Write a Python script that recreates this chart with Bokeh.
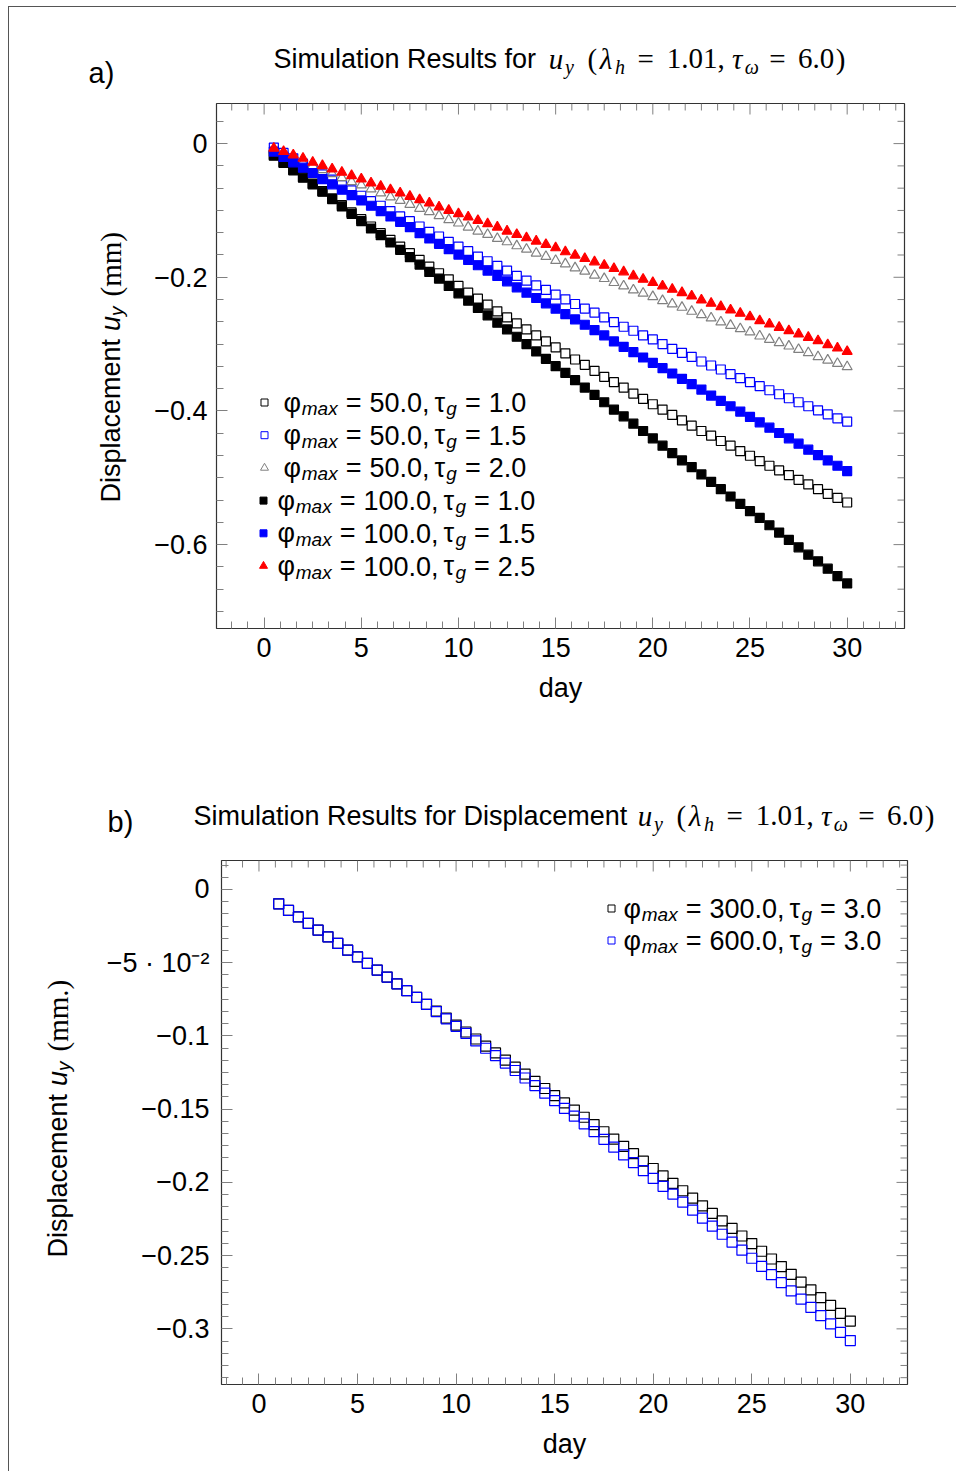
import math
from bokeh.plotting import figure
from bokeh.models import Range1d, FixedTicker, Label, CustomJSTickFormatter, ColumnDataSource
from bokeh.layouts import column, row
from bokeh.embed import file_html
from bokeh.resources import INLINE

# ---------------- data ----------------
days_a = [0.5, 1.0, 1.5, 2.0, 2.5, 3.0, 3.5, 4.0, 4.5, 5.0,
          5.5, 6.0, 6.5, 7.0, 7.5, 8.0, 8.5, 9.0, 9.5, 10.0,
          10.5, 11.0, 11.5, 12.0, 12.5, 13.0, 13.5, 14.0, 14.5, 15.0,
          15.5, 16.0, 16.5, 17.0, 17.5, 18.0, 18.5, 19.0, 19.5, 20.0,
          20.5, 21.0, 21.5, 22.0, 22.5, 23.0, 23.5, 24.0, 24.5, 25.0,
          25.5, 26.0, 26.5, 27.0, 27.5, 28.0, 28.5, 29.0, 29.5, 30.0]

phi50_tau10 = [-0.017, -0.028, -0.039, -0.050, -0.060, -0.071, -0.082, -0.092, -0.103, -0.113,
               -0.124, -0.134, -0.144, -0.154, -0.164, -0.174, -0.184, -0.194, -0.203, -0.213,
               -0.223, -0.232, -0.241, -0.251, -0.260, -0.269, -0.278, -0.287, -0.296, -0.305,
               -0.314, -0.323, -0.331, -0.340, -0.349, -0.357, -0.365, -0.374, -0.382, -0.390,
               -0.398, -0.406, -0.414, -0.422, -0.430, -0.437, -0.445, -0.452, -0.460, -0.467,
               -0.475, -0.482, -0.489, -0.496, -0.503, -0.510, -0.517, -0.524, -0.530, -0.537]
phi50_tau15 = [-0.006, -0.014, -0.022, -0.030, -0.038, -0.046, -0.054, -0.062, -0.070, -0.078,
               -0.086, -0.093, -0.101, -0.109, -0.116, -0.124, -0.132, -0.139, -0.147, -0.154,
               -0.161, -0.169, -0.176, -0.183, -0.190, -0.198, -0.205, -0.212, -0.219, -0.226,
               -0.233, -0.240, -0.247, -0.253, -0.260, -0.267, -0.274, -0.280, -0.287, -0.293,
               -0.300, -0.307, -0.313, -0.319, -0.326, -0.332, -0.338, -0.345, -0.351, -0.357,
               -0.363, -0.369, -0.375, -0.381, -0.387, -0.393, -0.399, -0.405, -0.411, -0.416]
phi50_tau20 = [-0.010, -0.016, -0.022, -0.028, -0.033, -0.039, -0.045, -0.051, -0.057, -0.062,
               -0.068, -0.074, -0.080, -0.085, -0.091, -0.097, -0.102, -0.108, -0.114, -0.119,
               -0.125, -0.131, -0.136, -0.142, -0.147, -0.153, -0.158, -0.164, -0.169, -0.175,
               -0.180, -0.186, -0.191, -0.197, -0.202, -0.208, -0.213, -0.219, -0.224, -0.229,
               -0.235, -0.240, -0.245, -0.251, -0.256, -0.261, -0.267, -0.272, -0.277, -0.282,
               -0.288, -0.293, -0.298, -0.303, -0.308, -0.313, -0.319, -0.324, -0.329, -0.334]
phi100_tau10 = [-0.018, -0.029, -0.040, -0.051, -0.061, -0.072, -0.083, -0.094, -0.105, -0.116,
                -0.127, -0.137, -0.148, -0.159, -0.170, -0.181, -0.192, -0.202, -0.213, -0.224,
                -0.235, -0.246, -0.257, -0.268, -0.278, -0.289, -0.300, -0.311, -0.322, -0.333,
                -0.343, -0.354, -0.365, -0.376, -0.387, -0.398, -0.408, -0.419, -0.430, -0.441,
                -0.452, -0.463, -0.474, -0.484, -0.495, -0.506, -0.517, -0.528, -0.539, -0.550,
                -0.560, -0.571, -0.582, -0.593, -0.604, -0.615, -0.625, -0.636, -0.647, -0.658]
phi100_tau15 = [-0.012, -0.020, -0.028, -0.036, -0.044, -0.053, -0.061, -0.069, -0.077, -0.085,
                -0.093, -0.101, -0.109, -0.117, -0.125, -0.134, -0.142, -0.150, -0.158, -0.166,
                -0.174, -0.182, -0.190, -0.198, -0.206, -0.215, -0.223, -0.231, -0.239, -0.247,
                -0.255, -0.263, -0.271, -0.279, -0.287, -0.296, -0.304, -0.312, -0.320, -0.328,
                -0.336, -0.344, -0.352, -0.360, -0.368, -0.377, -0.385, -0.393, -0.401, -0.409,
                -0.417, -0.425, -0.433, -0.441, -0.449, -0.458, -0.466, -0.474, -0.482, -0.490]
phi100_tau25 = [-0.007, -0.012, -0.017, -0.022, -0.028, -0.033, -0.038, -0.043, -0.048, -0.053,
                -0.059, -0.064, -0.069, -0.074, -0.079, -0.084, -0.089, -0.095, -0.100, -0.105,
                -0.110, -0.115, -0.120, -0.125, -0.131, -0.136, -0.141, -0.146, -0.151, -0.156,
                -0.162, -0.167, -0.172, -0.177, -0.182, -0.187, -0.192, -0.198, -0.203, -0.208,
                -0.213, -0.218, -0.223, -0.228, -0.234, -0.239, -0.244, -0.249, -0.254, -0.259,
                -0.265, -0.270, -0.275, -0.280, -0.285, -0.290, -0.295, -0.301, -0.306, -0.311]

days_b = [1.0, 1.5, 2.0, 2.5, 3.0, 3.5, 4.0, 4.5, 5.0, 5.5,
          6.0, 6.5, 7.0, 7.5, 8.0, 8.5, 9.0, 9.5, 10.0, 10.5,
          11.0, 11.5, 12.0, 12.5, 13.0, 13.5, 14.0, 14.5, 15.0, 15.5,
          16.0, 16.5, 17.0, 17.5, 18.0, 18.5, 19.0, 19.5, 20.0, 20.5,
          21.0, 21.5, 22.0, 22.5, 23.0, 23.5, 24.0, 24.5, 25.0, 25.5,
          26.0, 26.5, 27.0, 27.5, 28.0, 28.5, 29.0, 29.5, 30.0]
phi300_tau30 = [-0.0098, -0.0143, -0.0187, -0.0232, -0.0278, -0.0323, -0.0368, -0.0414, -0.0460, -0.0505,
                -0.0551, -0.0598, -0.0644, -0.0691, -0.0737, -0.0784, -0.0831, -0.0878, -0.0926, -0.0973,
                -0.1021, -0.1069, -0.1116, -0.1165, -0.1213, -0.1261, -0.1310, -0.1359, -0.1407, -0.1457,
                -0.1506, -0.1555, -0.1605, -0.1654, -0.1704, -0.1754, -0.1804, -0.1855, -0.1905, -0.1956,
                -0.2006, -0.2057, -0.2108, -0.2160, -0.2211, -0.2263, -0.2314, -0.2366, -0.2418, -0.2470,
                -0.2523, -0.2575, -0.2628, -0.2681, -0.2734, -0.2787, -0.2840, -0.2894, -0.2947]
phi600_tau30 = [-0.0098, -0.0143, -0.0187, -0.0232, -0.0278, -0.0323, -0.0368, -0.0414, -0.0460, -0.0505,
                -0.0551, -0.0598, -0.0644, -0.0691, -0.0737, -0.0785, -0.0834, -0.0883, -0.0934, -0.0983,
                -0.1034, -0.1084, -0.1134, -0.1185, -0.1236, -0.1287, -0.1339, -0.1391, -0.1442, -0.1495,
                -0.1548, -0.1600, -0.1653, -0.1706, -0.1759, -0.1812, -0.1865, -0.1920, -0.1973, -0.2027,
                -0.2080, -0.2135, -0.2189, -0.2244, -0.2298, -0.2354, -0.2408, -0.2463, -0.2518, -0.2573,
                -0.2630, -0.2685, -0.2741, -0.2797, -0.2854, -0.2910, -0.2966, -0.3024, -0.3080]

x_ticks = [0, 5, 10, 15, 20, 25, 30]
ya_ticks = [0.0, -0.2, -0.4, -0.6]
ya_labels = ["0", "\u22120.2", "\u22120.4", "\u22120.6"]
yb_ticks = [0.0, -0.05, -0.1, -0.15, -0.2, -0.25, -0.3]
yb_labels = ["0", "\u22125 \u00b7 10\u207b\u00b2", "\u22120.1", "\u22120.15", "\u22120.2", "\u22120.25", "\u22120.3"]

legend_a = [("50.0", "1.0"), ("50.0", "1.5"), ("50.0", "2.0"),
            ("100.0", "1.0"), ("100.0", "1.5"), ("100.0", "2.5")]
legend_b = [("300.0", "3.0"), ("600.0", "3.0")]

# ---------------- styling helpers ----------------
SANS = "Liberation Sans"
SERIF = "Liberation Serif"
TICK = "#808080"

W_SANS = {' ': 278, '.': 278, ',': 278, '=': 584, '(': 333, ')': 333, 'm': 833, 'a': 556,
          'x': 500, 'g': 556, 'u': 556, 'y': 500, 'D': 722, 'i': 222, 's': 500, 'p': 556,
          'l': 222, 'c': 500, 'e': 556, 'n': 556, 't': 278, '\u03c6': 640, '\u03c4': 440}
W_SERIF = {' ': 250, '.': 250, ',': 250, '=': 564, '(': 333, ')': 333, 'm': 778}
for _d in "0123456789":
    W_SANS[_d] = 556
    W_SERIF[_d] = 500


def text_width(text, font, size):
    tbl = W_SANS if font == SANS else W_SERIF
    return sum(tbl.get(c, 550) for c in text) * size / 1000.0


class Frame:
    """Maps page pixel positions to data coordinates of one figure's frame."""
    def __init__(self, L, R, T, B, x0, x1, y0, y1):
        self.L, self.R, self.T, self.B = L, R, T, B
        self.x0, self.x1, self.y0, self.y1 = x0, x1, y0, y1

    def x(self, px):
        return self.x0 + (px - self.L) * (self.x1 - self.x0) / (self.R - self.L)

    def y(self, py):
        return self.y1 - (py - self.T) * (self.y1 - self.y0) / (self.B - self.T)

    def dx(self, n):
        return n * (self.x1 - self.x0) / (self.R - self.L)

    def dy(self, n):
        return n * (self.y1 - self.y0) / (self.B - self.T)


def label(p, fr, px, py, text, font=SANS, size=27, style="normal", angle=0.0, color="black",
          align="left", baseline="middle"):
    p.add_layout(Label(x=fr.x(px), y=fr.y(py), text=text, text_font=font,
                       text_font_size=f"{size}px", text_font_style=style, text_color=color,
                       text_align=align, text_baseline=baseline, angle=angle))


def run_h(p, fr, px, py, items):
    x = px
    for it in items:
        if isinstance(it, (int, float)):
            x += it
            continue
        text, font, size, style, dy = it
        label(p, fr, x, py + dy, text, font, size, style)
        x += text_width(text, font, size)


def run_v(p, fr, px, py, items):
    # rotated text reading upwards; every piece is centred on its own slot
    y = py
    for it in items:
        if isinstance(it, (int, float)):
            y -= it
            continue
        text, font, size, style, dx = it
        w = text_width(text, font, size)
        label(p, fr, px + dx, y - w / 2, text, font, size, style, angle=math.pi / 2,
              align="center", baseline="middle")
        y -= w


def tick_formatter(vals, labs):
    return CustomJSTickFormatter(args=dict(vals=vals, labs=labs), code="""
        for (let i = 0; i < vals.length; i++) {
            if (Math.abs(vals[i] - tick) < 1e-9) { return labs[i]; }
        }
        return '';
    """)


def style_axis(ax, ticks, minor, standoff):
    ax.ticker = FixedTicker(ticks=ticks, minor_ticks=minor)
    ax.major_tick_in = 11
    ax.major_tick_out = 0
    ax.minor_tick_in = 7
    ax.minor_tick_out = 0
    ax.major_tick_line_color = TICK
    ax.minor_tick_line_color = TICK
    ax.axis_line_color = None
    ax.major_label_text_font = SANS
    ax.major_label_text_font_size = "27px"
    ax.major_label_text_color = "black"
    ax.major_label_standoff = standoff


def style_xlabel(ax):
    ax.axis_label = "day"
    ax.axis_label_text_font = SANS
    ax.axis_label_text_font_size = "27px"
    ax.axis_label_text_font_style = "normal"
    ax.axis_label_text_color = "black"
    ax.axis_label_standoff = 13


def mirror_ticks(p, fr, xmaj, xmin, ymaj, ymin):
    x0, y0, x1, y1 = [], [], [], []
    for ts, n in ((xmaj, 11), (xmin, 7)):
        for t in ts:
            x0.append(t); y0.append(fr.y1); x1.append(t); y1.append(fr.y1 - fr.dy(n))
    for ts, n in ((ymaj, 11), (ymin, 7)):
        for t in ts:
            x0.append(fr.x1); y0.append(t); x1.append(fr.x1 - fr.dx(n)); y1.append(t)
    p.segment(x0=x0, y0=y0, x1=x1, y1=y1, line_color=TICK, line_width=1)


def plot_fig(fr, page_left, page_top, w, h):
    bl = fr.L - page_left
    bt = fr.T - page_top
    p = figure(width=w, height=h, x_range=Range1d(fr.x0, fr.x1), y_range=Range1d(fr.y0, fr.y1),
               output_backend="svg", toolbar_location=None,
               min_border_left=bl, min_border_top=bt,
               min_border_right=w - bl - (fr.R - fr.L),
               min_border_bottom=h - bt - (fr.B - fr.T))
    p.xgrid.visible = False
    p.ygrid.visible = False
    p.outline_line_color = "#333333"
    p.outline_line_width = 1.2
    p.background_fill_color = "white"
    p.border_fill_color = "white"
    return p


def text_fig(page_left, page_top, w, h, bt=0, bb=0):
    """A bare canvas for free text; its frame spans page rows page_top+bt .. page_top+h-bb."""
    fh = h - bt - bb
    p = figure(width=w, height=h, x_range=Range1d(0, w), y_range=Range1d(0, fh),
               output_backend="svg", toolbar_location=None,
               min_border_left=0, min_border_right=0, min_border_top=bt, min_border_bottom=bb,
               x_axis_type=None, y_axis_type=None)
    p.outline_line_color = None
    p.background_fill_color = "white"
    p.border_fill_color = "white"
    fr = Frame(page_left, page_left + w, page_top + bt, page_top + h - bb, 0, w, 0, fh)
    return p, fr


def legend_row(p, fr, mx, my, tx, marker, color, fill, num1, num2):
    p.scatter(x=[fr.x(mx)], y=[fr.y(my)], marker=marker, size=7 if marker == "square" else 8,
              line_color=color, fill_color=fill, line_width=1)
    run_h(p, fr, tx, my, [
        ("\u03c6", SANS, 27, "normal", 0), 1,
        ("max", SANS, 19, "italic", 6), 8,
        ("=", SANS, 27, "normal", 0), 8,
        (num1 + ",", SANS, 27, "normal", 0), 5,
        ("\u03c4", SANS, 27, "normal", 0),
        ("g", SANS, 19, "italic", 6), 8,
        ("=", SANS, 27, "normal", 0), 8,
        (num2, SANS, 27, "normal", 0)])


# math part of the titles: (offset from the opening parenthesis, text, size, style, dy)
TITLE_MATH = [(0.9, "(", 29, "normal", 0), (13.2, "\u03bb", 29, "italic", 0),
              (28.6, "h", 20, "italic", 8), (51.1, "=", 29, "normal", 0),
              (80.3, "1.01,", 29, "normal", 0), (145.6, "\u03c4", 29, "italic", 0),
              (158.2, "\u03c9", 20, "italic", 8), (182.8, "=", 29, "normal", 0),
              (211.4, "6.0", 29, "normal", 0), (249.3, ")", 29, "normal", 0)]


def title_runs(p, fr, x_sans, sans_text, x_u, x_paren, cy):
    label(p, fr, x_sans, cy, sans_text, SANS, 27)
    label(p, fr, x_u + 1.2, cy, "u", SERIF, 29, "italic")
    label(p, fr, x_u + 17.5, cy + 8, "y", SERIF, 20, "italic")
    for dx, txt, size, style, dy in TITLE_MATH:
        label(p, fr, x_paren + dx, cy + dy, txt, SERIF, size, style)


Y_LABEL_A = [("Displacement", SANS, 27, "normal", 0), 8,
             ("u", SANS, 27, "italic", 0),
             ("y", SANS, 19, "italic", 6), 10,
             ("(mm)", SERIF, 29, "normal", 0)]
Y_LABEL_B = [("Displacement", SANS, 27, "normal", 0), 8,
             ("u", SANS, 27, "italic", 0),
             ("y", SANS, 19, "italic", 6), 10,
             ("(mm.)", SERIF, 29, "normal", 0)]

X0, Y0 = 9, 7          # page position of the content (after margin + border)
FW = 947

# ---------------- panel a ----------------
ta, tfa = text_fig(X0, Y0, FW, 92)
title_runs(ta, tfa, 273, "Simulation Results for", 547, 586, 58)
label(ta, tfa, 88, 72, "a)", SANS, 29)

fa = Frame(216, 904, 103, 628, -2.45, 32.95, -0.7255, 0.06)
ya_w = 130
pa = plot_fig(fa, X0 + ya_w, 99, FW - ya_w, 662)
# the text canvas shares the plot's frame rows (row layouts align frames)
la, lfa = text_fig(X0, 99, ya_w, 662, bt=fa.T - 99, bb=99 + 662 - fa.B)
run_v(la, lfa, 110, 502, Y_LABEL_A)

series_a = [
    (phi50_tau10, "square", "black", None, 9),
    (phi50_tau15, "square", "#0000ff", None, 9),
    (phi50_tau20, "triangle", "#808080", None, 10),
    (phi100_tau10, "square", "black", "black", 9),
    (phi100_tau15, "square", "#0000ff", "#0000ff", 9),
    (phi100_tau25, "triangle", "#ff0000", "#ff0000", 10),
]
for vals, mk, col, fill, sz in series_a:
    src = ColumnDataSource(dict(day=days_a, v=vals))
    pa.scatter(x="day", y="v", source=src, marker=mk, size=sz, line_color=col,
               fill_color=fill, line_width=1.2)

xa_minor = [k * 5 / 6 for k in range(-2, 40) if k % 6 != 0]
ya_minor = [k * 0.2 / 6 for k in range(-21, 2) if k % 6 != 0]
style_axis(pa.xaxis[0], x_ticks, xa_minor, 9)
style_axis(pa.yaxis[0], ya_ticks, ya_minor, 9)
pa.yaxis[0].formatter = tick_formatter(ya_ticks, ya_labels)
style_xlabel(pa.xaxis[0])
mirror_ticks(pa, fa, x_ticks, xa_minor, ya_ticks, ya_minor)

legend_style_a = [("square", "black", None), ("square", "#0000ff", None), ("triangle", "#808080", None),
                  ("square", "black", "black"), ("square", "#0000ff", "#0000ff"),
                  ("triangle", "#ff0000", "#ff0000")]
for i, ((n1, n2), (mk, col, fill)) in enumerate(zip(legend_a, legend_style_a)):
    cy = 402 + 32.7 * i
    if i < 3:
        legend_row(pa, fa, 264, cy, 283, mk, col, fill, n1, n2)
    else:
        legend_row(pa, fa, 263, cy, 277, mk, col, fill, n1, n2)

# ---------------- panel b ----------------
tb, tfb = text_fig(X0, 761, FW, 95)
title_runs(tb, tfb, 193, "Simulation Results for Displacement", 636, 675, 815)
label(tb, tfb, 107, 821, "b)", SANS, 29)

fb = Frame(221, 907, 860, 1384, -1.9, 32.9, -0.338, 0.0198)
yb_w = 85
pb = plot_fig(fb, X0 + yb_w, 856, FW - yb_w, 615)
lb, lfb = text_fig(X0, 856, yb_w, 615, bt=fb.T - 856, bb=856 + 615 - fb.B)
run_v(lb, lfb, 57, 1257, Y_LABEL_B)

for vals, col in ((phi300_tau30, "black"), (phi600_tau30, "#0000ff")):
    src = ColumnDataSource(dict(day=days_b, v=vals))
    pb.scatter(x="day", y="v", source=src, marker="square", size=10, line_color=col,
               fill_color=None, line_width=1.2)

xb_minor = [k * 5 / 6 for k in range(-2, 40) if k % 6 != 0]
yb_minor = [k * 0.05 / 6 for k in range(-40, 3) if k % 6 != 0]
style_axis(pb.xaxis[0], x_ticks, xb_minor, 9)
style_axis(pb.yaxis[0], yb_ticks, yb_minor, 12)
pb.yaxis[0].formatter = tick_formatter(yb_ticks, yb_labels)
style_xlabel(pb.xaxis[0])
mirror_ticks(pb, fb, x_ticks, xb_minor, yb_ticks, yb_minor)

for i, ((n1, n2), col) in enumerate(zip(legend_b, ["black", "#0000ff"])):
    legend_row(pb, fb, 611, 908 + 32 * i, 623, "square", col, None, n1, n2)

layout = column(ta, row(la, pa), tb, row(lb, pb),
                styles={"margin-left": "8px", "margin-top": "6px",
                        "border-left": "1px solid #555555", "border-top": "1px solid #555555"})
open("out.html", "w").write(file_html(layout, INLINE))
